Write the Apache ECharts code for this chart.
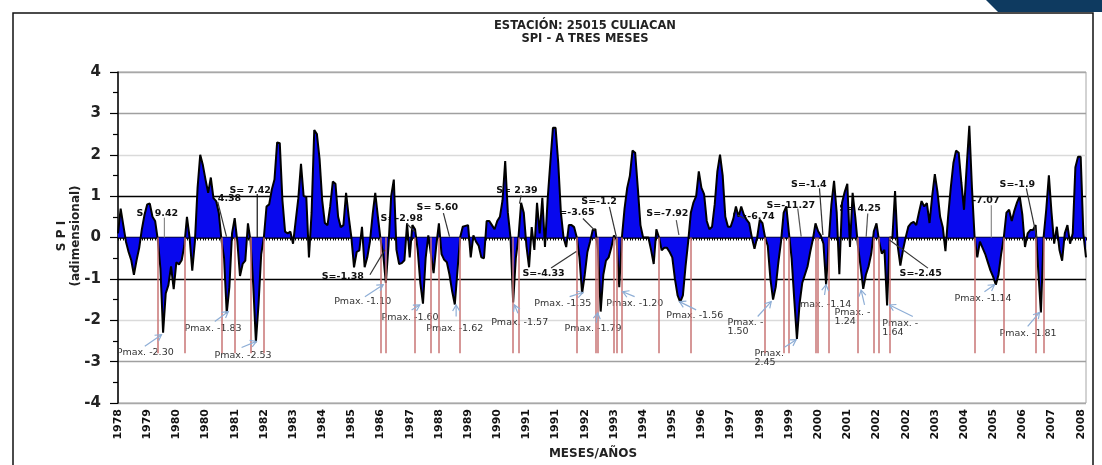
<!DOCTYPE html>
<html>
<head>
<meta charset="utf-8">
<script src="https://cdn.jsdelivr.net/npm/echarts@6/dist/echarts.min.js"></script>
<style>
  html, body { margin: 0; padding: 0; background: #fff; }
  #chart { width: 1102px; height: 465px; }
</style>
</head>
<body>
<div id="chart"></div>
<script>
// SPI-3 monthly series, station 25015 Culiacan, March 1978 onward
const startYear = 1978;
const startMonth = 3;

const spi = [
  0.10, 0.70, 0.30, -0.10, -0.35, -0.55, -0.90, -0.55, -0.25, 0.20, 0.55, 0.80,
  0.82, 0.50, 0.40, -0.05, -0.75, -2.30, -1.35, -1.15, -0.70, -1.25, -0.60, -0.65,
  -0.55, -0.20, 0.50, 0.00, -0.80, -0.10, 1.20, 2.00, 1.75, 1.40, 1.08, 1.45,
  0.95, 0.88, 0.60, -0.05, -0.50, -1.83, -1.20, 0.10, 0.47, -0.10, -0.93, -0.64,
  -0.56, 0.34, -0.10, -1.15, -2.53, -1.60, -0.40, 0.00, 0.75, 0.80, 1.16, 1.40,
  2.30, 2.28, 0.90, 0.14, 0.10, 0.14, -0.15, 0.40, 0.95, 1.78, 1.00, 0.98,
  -0.48, 0.60, 2.60, 2.50, 1.90, 0.90, 0.35, 0.30, 0.75, 1.35, 1.30, 0.50,
  0.25, 0.30, 1.08, 0.50, 0.00, -0.72, -0.35, -0.31, 0.26, -0.72, -0.48, -0.10,
  0.55, 1.08, 0.50, -0.05, -0.40, -1.10, -0.20, 1.00, 1.40, -0.30, -0.64, -0.62,
  -0.55, 0.34, -0.48, 0.30, 0.20, -0.30, -1.10, -1.60, -0.50, 0.05, -0.40, -0.86,
  -0.20, 0.34, -0.40, -0.54, -0.60, -0.90, -1.30, -1.62, -0.80, 0.00, 0.26, 0.28,
  0.30, -0.48, 0.05, -0.10, -0.20, -0.48, -0.50, 0.40, 0.40, 0.30, 0.20, 0.40,
  0.50, 0.90, 1.85, 0.60, 0.00, -1.57, -0.50, 0.00, 0.84, 0.60, -0.20, -0.72,
  0.25, -0.30, 0.84, 0.10, 0.96, -0.23, 0.92, 1.80, 2.65, 2.65, 1.80, 0.60,
  0.00, -0.23, 0.30, 0.30, 0.25, 0.00, -0.48, -1.35, -0.90, -0.35, -0.10, 0.18,
  0.20, -0.30, -1.79, -0.90, -0.56, -0.48, -0.25, 0.05, -0.05, -1.20, 0.00, 0.70,
  1.20, 1.49, 2.10, 2.05, 1.20, 0.30, 0.00, 0.00, 0.00, -0.30, -0.64, 0.20,
  0.00, -0.31, -0.25, -0.25, -0.35, -0.48, -1.00, -1.40, -1.56, -1.40, -0.70, -0.10,
  0.60, 0.85, 1.00, 1.60, 1.20, 1.05, 0.40, 0.20, 0.26, 0.80, 1.60, 2.00,
  1.50, 0.50, 0.26, 0.26, 0.45, 0.75, 0.50, 0.75, 0.55, 0.43, 0.35, 0.00,
  -0.27, 0.00, 0.43, 0.35, 0.00, -0.20, -1.00, -1.50, -1.20, -0.60, -0.10, 0.60,
  0.75, 0.10, -0.50, -1.50, -2.45, -1.60, -1.10, -0.90, -0.70, -0.35, -0.05, 0.34,
  0.15, 0.05, -0.15, -1.14, -0.10, 0.80, 1.37, 0.60, -0.89, 0.84, 1.10, 1.30,
  -0.23, 1.08, 0.50, -0.20, -0.70, -1.24, -0.90, -0.70, -0.40, 0.15, 0.34, -0.10,
  -0.39, -0.30, -1.64, 0.00, 0.00, 1.12, -0.20, -0.68, -0.30, 0.00, 0.26, 0.34,
  0.38, 0.30, 0.60, 0.88, 0.75, 0.83, 0.35, 1.00, 1.53, 1.10, 0.50, 0.25,
  -0.33, 0.50, 1.20, 1.80, 2.10, 2.05, 1.33, 0.67, 1.70, 2.70, 1.20, 0.00,
  -0.48, -0.10, -0.25, -0.40, -0.60, -0.80, -0.95, -1.14, -0.90, -0.40, 0.00, 0.60,
  0.67, 0.40, 0.65, 0.85, 1.00, 0.55, -0.23, 0.10, 0.18, 0.18, 0.30, -0.80,
  -1.81, 0.00, 0.67, 1.50, 0.60, -0.15, 0.26, -0.30, -0.56, 0.10, 0.30, -0.15,
  0.10, 1.70, 1.95, 1.95, 0.10, -0.48
];

// Year shown under every 11th month
const yearTicks = [
  '1978', '1979', '1980', '1980', '1981', '1982', '1983', '1984', '1985', '1986',
  '1987', '1988', '1989', '1990', '1991', '1991', '1992', '1993', '1994', '1995',
  '1996', '1997', '1998', '1999', '2000', '2001', '2002', '2002', '2003', '2004',
  '2005', '2006', '2007', '2008'
];
const tickStep = 11;

// Months where a drought episode starts or ends (index into spi)
const droughtBounds = [
  15, 25, 39, 44, 50, 55, 99, 101, 112, 118, 121, 129, 149, 151, 173, 180, 181,
  187, 188, 190, 204, 216, 244, 251, 253, 263, 264, 268, 279, 285, 287, 291,
  323, 334, 346, 349
];
const boundDepth = -2.8;

// Drought magnitude notes: text, anchor [month, spi], leader line
const sNotes = [
  ['S= 9.42', [7.0, 0.59], [17.5, 0.48], [17.5, 0.0], '#8a8a8a'],
  ['S= 4.38', [30.8, 0.93], [37.6, 0.86], [40.9, 0.02], '#333'],
  ['S= 7.42', [42.0, 1.13], [52.5, 1.05], [52.5, 0.0], '#111'],
  ['S=-1.38', [76.8, -0.94], [95.0, -0.90], [100.6, -0.30], '#333'],
  ['S=-2.98', [99.0, 0.47], [108.8, 0.34], [111.9, 0.14], '#333'],
  ['S= 5.60', [112.6, 0.73], [122.7, 0.59], [125.0, 0.02], '#333'],
  ['S= 2.39', [142.6, 1.14], [152.0, 1.02], [151.4, 0.82], '#333'],
  ['S=-4.33', [152.5, -0.86], [163.3, -0.74], [172.8, -0.34], '#333'],
  ['S=-3.65', [163.8, 0.61], [175.3, 0.46], [179.7, 0.18], '#333'],
  ['S=-1.2', [174.7, 0.86], [185.3, 0.74], [187.9, 0.02], '#333'],
  ['S=-7.92', [199.2, 0.58], [210.5, 0.42], [211.5, 0.06], '#555'],
  ['S=-6.74', [231.7, 0.50], [236.2, 0.46], [233.7, 0.54], '#333'],
  ['S=-11.27', [244.5, 0.78], [256.3, 0.70], [257.6, 0.02], '#555'],
  ['S=-1.4', [253.8, 1.27], [264.5, 1.19], [265.8, 0.06], '#333'],
  ['S= 4.25', [272.0, 0.71], [282.7, 0.58], [282.1, 0.02], '#555'],
  ['S=-2.45', [294.7, -0.88], [305.4, -0.74], [290.9, -0.06], '#333'],
  ['S=-7.07', [316.5, 0.89], [329.3, 0.78], [329.3, 0.0], '#8a8a8a'],
  ['S=-1.9', [332.4, 1.29], [342.5, 1.19], [346.5, -0.02], '#333']
];

// Peak intensity notes: text, anchor [month, spi], arrow from / to
const pNotes = [
  ['Pmax. -2.30', [-0.5, -2.78], [10.1, -2.63], [16.4, -2.35]],
  ['Pmax. -1.83', [25.1, -2.20], [36.5, -2.03], [41.6, -1.79]],
  ['Pmax. -2.53', [36.4, -2.86], [46.6, -2.66], [52.2, -2.51]],
  ['Pmax. -1.10', [81.5, -1.54], [93.1, -1.43], [100.0, -1.14]],
  ['Pmax. -1.60', [99.4, -1.94], [110.7, -1.75], [113.8, -1.63]],
  ['Pmax. -1.62', [116.2, -2.19], [127.5, -1.91], [127.5, -1.63]],
  ['Pmax. -1.57', [140.7, -2.05], [150.8, -1.83], [149.5, -1.63]],
  ['Pmax. -1.35', [157.0, -1.60], [170.3, -1.43], [175.3, -1.33]],
  ['Pmax. -1.20', [184.1, -1.60], [194.8, -1.43], [190.3, -1.31]],
  ['Pmax. -1.79', [168.4, -2.21], [180.3, -2.06], [180.9, -1.82]],
  ['Pmax. -1.56', [206.7, -1.89], [218.0, -1.75], [211.7, -1.55]],
  ['Pmax. -\n1.50', [229.8, -2.17], [241.2, -1.91], [246.3, -1.55]],
  ['Pmax.\n2.45', [240.0, -2.92], [251.3, -2.65], [255.7, -2.47]],
  ['Pmax. -1.14', [255.0, -1.63], [266.4, -1.39], [267.0, -1.14]],
  ['Pmax. -\n1.24', [270.2, -1.93], [281.5, -1.63], [280.2, -1.27]],
  ['Pmax. -\n1.64', [288.2, -2.20], [299.7, -1.91], [290.9, -1.63]],
  ['Pmax. -1.14', [315.4, -1.47], [326.7, -1.31], [330.5, -1.14]],
  ['Pmax. -1.81', [332.4, -2.31], [343.0, -2.15], [347.5, -1.81]]
];

const months = spi.map((_, i) => {
  const m = startMonth - 1 + i;
  return (startYear + Math.floor(m / 12)) + '-' + String(m % 12 + 1).padStart(2, '0');
});

const FONT = '"DejaVu Sans", Verdana, sans-serif';
const chart = echarts.init(document.getElementById('chart'), null, { renderer: 'canvas' });

const boundLines = droughtBounds.map(i => [
  { coord: [i, 0] },
  { coord: [i, boundDepth] }
]);

chart.setOption({
  animation: false,
  backgroundColor: '#fff',
  grid: {
    left: 118, right: 16, top: 72, bottom: 62,
    show: true, borderColor: '#a6a6a6', borderWidth: 1
  },
  xAxis: [
    {
      type: 'category',
      data: months,
      boundaryGap: false,
      position: 'bottom',
      axisLine: { show: false, onZero: false },
      axisTick: { show: false },
      axisLabel: {
        interval: tickStep - 1,
        rotate: 90,
        margin: 6,
        fontFamily: FONT,
        fontWeight: 'bold',
        fontSize: 11,
        color: '#111',
        formatter: (val, idx) => yearTicks[Math.round(idx / tickStep)] || ''
      },
      splitLine: { show: false },
      name: 'MESES/AÑOS',
      nameLocation: 'middle',
      nameGap: 43,
      nameTextStyle: { fontFamily: FONT, fontWeight: 'bold', fontSize: 12, color: '#222', padding: [0, 18, 0, 0] }
    },
    {
      type: 'category',
      data: months,
      boundaryGap: false,
      position: 'top',
      axisLine: { show: true, onZero: true, lineStyle: { color: '#000', width: 1.5 } },
      axisTick: { show: true, interval: 0, inside: true, length: 3, lineStyle: { color: '#000', width: 1 } },
      axisLabel: { show: false },
      splitLine: { show: false }
    },
    {
      type: 'value',
      min: 0,
      max: spi.length - 1,
      show: false
    }
  ],
  yAxis: {
    type: 'value',
    min: -4,
    max: 4,
    interval: 1,
    axisLine: { show: true, onZero: false, lineStyle: { color: '#000', width: 1.5 } },
    axisTick: { show: true, length: 8, lineStyle: { color: '#000', width: 1.2 } },
    minorTick: { show: true, splitNumber: 2, length: 5, lineStyle: { color: '#000', width: 1.2 } },
    axisLabel: {
      margin: 17,
      fontFamily: FONT,
      fontWeight: 'bold',
      fontSize: 15,
      color: '#222'
    },
    splitLine: {
      show: true,
      lineStyle: {
        width: 1.4,
        color: ['#a8a8a8', '#a0a0a0', '#dadada', '#000', '#000', '#000', '#dadada', '#a0a0a0', '#a8a8a8']
      }
    }
  },
  series: [{
    type: 'line',
    xAxisIndex: 0,
    yAxisIndex: 0,
    data: spi,
    symbol: 'none',
    smooth: false,
    z: 2,
    lineStyle: { color: '#000', width: 2 },
    areaStyle: { color: '#0808ee', opacity: 1 },
    markLine: {
      silent: true,
      symbol: ['none', 'none'],
      label: { show: false },
      lineStyle: { color: '#c97575', width: 1.5, type: 'solid' },
      data: boundLines
    }
  }]
});

// Notes are placed through the axes' own scales
const px = (p) => [
  chart.convertToPixel({ xAxisIndex: 2 }, p[0]),
  chart.convertToPixel({ yAxisIndex: 0 }, p[1])
];

const elements = [];

// Title
elements.push({
  type: 'text', x: 585, y: 33, z: 5,
  style: {
    text: 'ESTACIÓN: 25015 CULIACAN\nSPI - A TRES MESES',
    font: 'bold 11.5px ' + FONT, fill: '#222', lineHeight: 13,
    align: 'center', verticalAlign: 'middle', textAlign: 'center', textVerticalAlign: 'middle'
  }
});

// Y axis title
elements.push({
  type: 'text', x: 69, y: 236, rotation: Math.PI / 2, z: 5,
  style: {
    text: 'S P I\n(adimensional)',
    font: 'bold 12px ' + FONT, fill: '#222', lineHeight: 14,
    align: 'center', verticalAlign: 'middle', textAlign: 'center', textVerticalAlign: 'middle'
  }
});

// Outer frame and page banner corner
elements.push({
  type: 'rect', z: 5,
  shape: { x: 13, y: 13, width: 1080, height: 470 },
  style: { fill: 'none', stroke: '#111', lineWidth: 1.5 }
});
elements.push({
  type: 'polygon', z: 6,
  shape: { points: [[986, 0], [1102, 0], [1102, 12], [998, 12]] },
  style: { fill: '#0e3a60' }
});

sNotes.forEach(([text, at, from, to, color]) => {
  const a = px(at), p1 = px(from), p2 = px(to);
  elements.push({
    type: 'text', x: a[0], y: a[1], z: 1,
    style: {
      text, font: 'bold 9.5px ' + FONT, fill: '#111',
      align: 'left', verticalAlign: 'middle', textAlign: 'left', textVerticalAlign: 'middle'
    }
  });
  elements.push({
    type: 'line', z: 10,
    shape: { x1: p1[0], y1: p1[1], x2: p2[0], y2: p2[1] },
    style: { stroke: color, lineWidth: 1.2 }
  });
});

pNotes.forEach(([text, at, from, to]) => {
  const a = px(at), p1 = px(from), p2 = px(to);
  elements.push({
    type: 'text', x: a[0], y: a[1], z: 1,
    style: {
      text, font: '9.5px ' + FONT, fill: '#333', lineHeight: 9,
      align: 'left', verticalAlign: 'middle', textAlign: 'left', textVerticalAlign: 'middle'
    }
  });
  const dx = p2[0] - p1[0], dy = p2[1] - p1[1];
  const len = Math.hypot(dx, dy) || 1;
  const ux = dx / len, uy = dy / len;
  elements.push({
    type: 'line', z: 10,
    shape: { x1: p1[0], y1: p1[1], x2: p2[0], y2: p2[1] },
    style: { stroke: '#8eaed6', lineWidth: 1.2 }
  });
  elements.push({
    type: 'polyline', z: 10,
    shape: {
      points: [
        [p2[0] - 6 * ux + 3.5 * uy, p2[1] - 6 * uy - 3.5 * ux],
        [p2[0], p2[1]],
        [p2[0] - 6 * ux - 3.5 * uy, p2[1] - 6 * uy + 3.5 * ux]
      ]
    },
    style: { stroke: '#8eaed6', lineWidth: 1.2, fill: 'none' }
  });
});

chart.setOption({ graphic: { elements } });
</script>
</body>
</html>
